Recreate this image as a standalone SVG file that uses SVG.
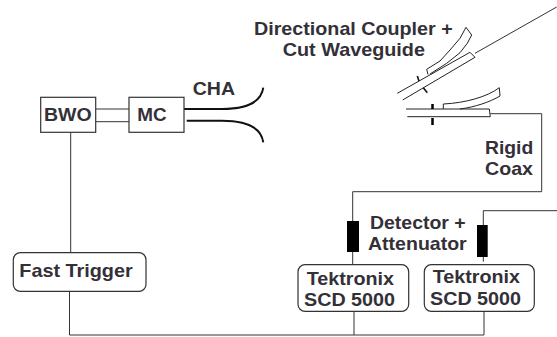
<svg xmlns="http://www.w3.org/2000/svg" width="557" height="337" viewBox="0 0 557 337">
<style>
.t{font-family:"Liberation Sans",Arial,sans-serif;font-weight:bold;font-size:19px;fill:#333038}
.b{fill:#fff;stroke:#333;stroke-width:1.2}
.l{fill:none;stroke:#333;stroke-width:1}
.k{fill:none;stroke:#222;stroke-width:1}
.h{fill:none;stroke:#111;stroke-width:2}
.m{fill:none;stroke:#111;stroke-width:1.6}
.n{fill:none;stroke:#000;stroke-width:2.5}
</style>
<rect width="557" height="337" fill="#fff"/>
<g id="connectors">
<path class="l" d="M70.700 132V253M69.500 291V335H484V311M354 311V335"/>
<path class="l" d="M96 109H129M96 121.700H129"/>
<path class="h" d="M184 109H222C245 109 261 103 263.300 87.700"/>
<path class="h" d="M186.700 120.700H222C245 120.700 261 127 263.300 142.300"/>
<path class="l" d="M475 53.300L556.700 7"/>
<path class="l" d="M490.300 113.700H541.700V191.700H352.700V265"/>
<path class="l" d="M557 210.700H483.300V261.700"/>
</g>
<g id="coupler">
<path class="k" d="M397.300 93.300L470 52.300L475 57.300L402.700 100"/>
<path class="k" d="M428 74.500L426.700 69.300L440 61L450 50L460 38.300L466 27.300L471.700 35L467.300 43.300L460 52.700L446.700 63.300L430 74"/>
<path class="m" d="M417.300 76L419 81M423.300 87.700L427.300 92.700"/>
</g>
<g id="coax">
<path class="k" d="M406 109H489.300L490.300 116.700H407.300"/>
<path class="k" d="M443.300 109V104C465 103 487 97 499.300 87.700L500 96C490 102 475 107 460 109"/>
<path class="n" d="M432.500 104V109M432.500 118V125"/>
</g>
<g id="bwo"><rect class="b" x="40.700" y="97.300" width="55" height="35"/><text class="t" x="44" y="120.700" textLength="47.700" lengthAdjust="spacingAndGlyphs">BWO</text></g>
<g id="mc"><rect class="b" x="129" y="97.300" width="55" height="35"/><text class="t" x="137.300" y="120.700" textLength="29.400" lengthAdjust="spacingAndGlyphs">MC</text></g>
<g id="cha"><text class="t" x="192.700" y="95" textLength="42.300" lengthAdjust="spacingAndGlyphs">CHA</text></g>
<g id="coupler-label"><text class="t" x="254" y="35" textLength="198.700" lengthAdjust="spacingAndGlyphs">Directional Coupler +</text><text class="t" x="282.700" y="56" textLength="142.300" lengthAdjust="spacingAndGlyphs">Cut Waveguide</text></g>
<g id="rigid-coax"><text class="t" x="485" y="154.300" textLength="48.300" lengthAdjust="spacingAndGlyphs">Rigid</text><text class="t" x="485" y="175" textLength="48" lengthAdjust="spacingAndGlyphs">Coax</text></g>
<g id="detector-label"><text class="t" x="370" y="229" textLength="95.700" lengthAdjust="spacingAndGlyphs">Detector +</text><text class="t" x="368" y="250" textLength="98.700" lengthAdjust="spacingAndGlyphs">Attenuator</text></g>
<g id="detector1"><rect x="347" y="221" width="12" height="31" fill="#000"/></g>
<g id="detector2"><rect x="477" y="225" width="10.700" height="32" fill="#000"/></g>
<g id="fast-trigger"><rect class="b" x="13.300" y="252.700" width="132.700" height="38.600" rx="7"/><text class="t" x="19.300" y="276.700" textLength="113.400" lengthAdjust="spacingAndGlyphs">Fast Trigger</text></g>
<g id="tek1"><rect class="b" x="298" y="264.700" width="110.700" height="46.600" rx="7"/><text class="t" x="306.700" y="285" textLength="87.300" lengthAdjust="spacingAndGlyphs">Tektronix</text><text class="t" x="304" y="306" textLength="91" lengthAdjust="spacingAndGlyphs">SCD 5000</text></g>
<g id="tek2"><rect class="b" x="424.300" y="264.700" width="110" height="46.600" rx="7"/><text class="t" x="432.700" y="283.300" textLength="87.300" lengthAdjust="spacingAndGlyphs">Tektronix</text><text class="t" x="430" y="305" textLength="91" lengthAdjust="spacingAndGlyphs">SCD 5000</text></g>
</svg>
